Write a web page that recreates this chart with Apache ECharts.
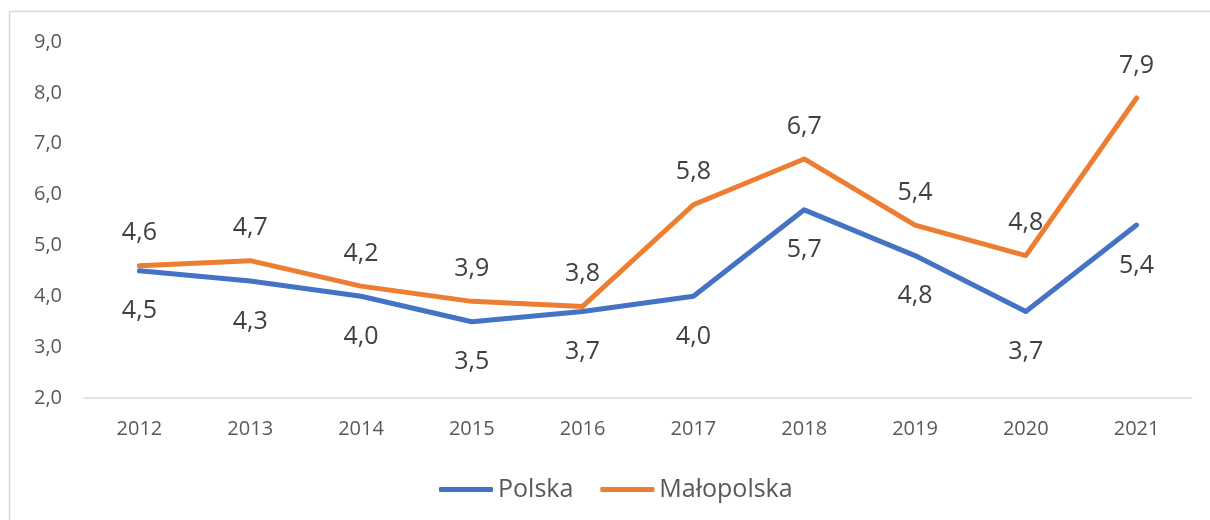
<!DOCTYPE html>
<html>
<head>
<meta charset="utf-8">
<script src="https://cdn.jsdelivr.net/npm/echarts@6/dist/echarts.min.js"></script>
<style>
	html, body { margin: 0; padding: 0; background: #fff; }
	#chart { width: 1210px; height: 520px; }
</style>
</head>
<body>
<div id="chart"></div>
<script>
// dane z wykresu
const years = ['2012', '2013', '2014', '2015', '2016', '2017', '2018', '2019', '2020', '2021'];
const polska = [4.5, 4.3, 4.0, 3.5, 3.7, 4.0, 5.7, 4.8, 3.7, 5.4];
const malopolska = [4.6, 4.7, 4.2, 3.9, 3.8, 5.8, 6.7, 5.4, 4.8, 7.9];
const yTicks = { min: 2, max: 9, interval: 1 };

const font = '"Open Sans", "Noto Sans", sans-serif';

//przecinek zamiast kropki
function fmt(v) {
	return v.toFixed(1).replace('.', ',');
}

const chart = echarts.init(document.getElementById('chart'), null, { renderer: 'canvas' });

const option = {
	animation: false,
	backgroundColor: '#fff',
	textStyle: { fontFamily: font },
	graphic: [{
		type: 'rect',
		shape: { x: 9.5, y: 11.5, width: 1400, height: 700 },
		style: { fill: 'none', stroke: '#d9d9d9', lineWidth: 1.5 },
		silent: true
	}],
	grid: { left: 84, right: 18, top: 42, bottom: 122 },
	legend: {
		left: 434,
		top: 472,
		icon: 'roundRect',
		itemWidth: 54,
		itemHeight: 5,
		itemGap: 27,
		textStyle: { fontFamily: font, fontSize: 25, color: '#595959' },
		data: ['Polska', 'Małopolska']
	},
	xAxis: {
		type: 'category',
		data: years,
		boundaryGap: true,
		axisLine: { lineStyle: { color: '#d9d9d9', width: 1.5 } },
		axisTick: { show: false },
		axisLabel: { fontFamily: font, fontSize: 20, color: '#595959', margin: 21 }
	},
	yAxis: {
		type: 'value',
		min: yTicks.min,
		max: yTicks.max,
		interval: yTicks.interval,
		axisLine: { show: false },
		axisTick: { show: false },
		splitLine: { show: false },
		axisLabel: {
			fontFamily: font, fontSize: 20, color: '#595959', margin: 22,
			formatter: fmt
		}
	},
	series: [{
		name: 'Polska',
		type: 'line',
		data: polska,
		symbol: 'circle',
		symbolSize: 2,
		showSymbol: true,
		color: '#4472c4',
		lineStyle: { width: 5, color: '#4472c4', cap: 'round', join: 'round' },
		label: {
			show: true, position: 'bottom', distance: 27,
			fontFamily: font, fontSize: 25, color: '#404040',
			formatter: p => fmt(p.value)
		}
	}, {
		name: 'Małopolska',
		type: 'line',
		data: malopolska,
		symbol: 'circle',
		symbolSize: 2,
		showSymbol: true,
		color: '#ed7d31',
		lineStyle: { width: 5, color: '#ed7d31', cap: 'round', join: 'round' },
		label: {
			show: true, position: 'top', distance: 19,
			fontFamily: font, fontSize: 25, color: '#404040',
			formatter: p => fmt(p.value)
		}
	}]
};

chart.setOption(option);
</script>
</body>
</html>
